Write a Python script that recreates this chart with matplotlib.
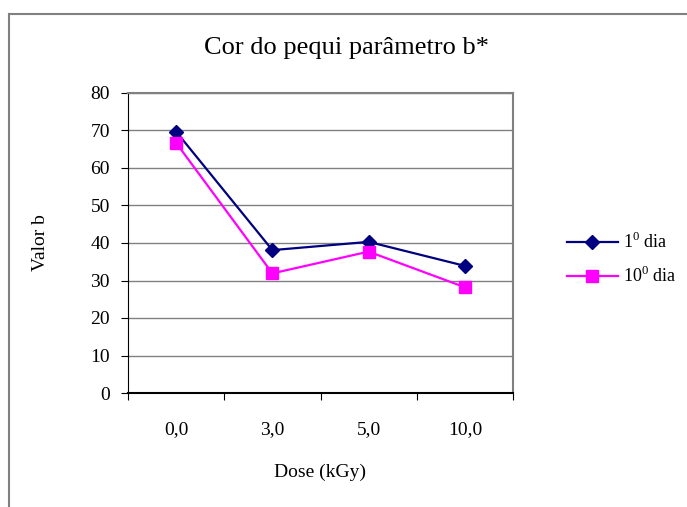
import matplotlib.pyplot as plt
from matplotlib.lines import Line2D
import numpy as np

plt.rcParams['font.family'] = ['Liberation Serif', 'DejaVu Serif']
plt.rcParams['mathtext.fontset'] = 'custom'
plt.rcParams['mathtext.rm'] = 'Liberation Serif'

# data
doses = ["0,0", "3,0", "5,0", "10,0"]
dia_1 = [69.7, 38.1, 40.3, 33.9]
dia_10 = [66.7, 31.9, 37.7, 28.2]
y_ticks = [0, 10, 20, 30, 40, 50, 60, 70, 80]

fig = plt.figure(figsize=(6.87, 5.07), dpi=100)
W, H = 687, 507

# outer chart border (only top and left visible)
fig.add_artist(Line2D([8.5 / W, 1.0], [1 - 13.5 / H, 1 - 13.5 / H], color="#808080", lw=1.5,
                      transform=fig.transFigure))
fig.add_artist(Line2D([8.5 / W, 8.5 / W], [0, 1 - 13.5 / H], color="#808080", lw=1.5,
                      transform=fig.transFigure))

ax = fig.add_axes([128 / W, 1 - 393 / H, 385 / W, 300 / H])
x = np.arange(len(doses))

ax.plot(x, dia_1, color="#000080", lw=1.6, marker="D", markersize=7, label=r"1$^\mathrm{0}$ dia", zorder=3)
ax.plot(x, dia_10, color="#FF00FF", lw=1.6, marker="s", markersize=9, label=r"10$^\mathrm{0}$ dia", zorder=3)

ax.set_xlim(-0.5, len(doses) - 0.5)
ax.set_ylim(0, 80)
ax.set_yticks(y_ticks)
ax.yaxis.grid(True, color="#808080", lw=1)
ax.set_axisbelow(True)

# category labels between boundary ticks
ax.set_xticks(np.arange(-0.5, len(doses)), minor=False)
ax.set_xticklabels([])
ax.set_xticks(x, minor=True)
ax.set_xticklabels(doses, minor=True)
ax.tick_params(axis="x", which="major", direction="out", length=5, color="black")
ax.tick_params(axis="x", which="minor", length=0, pad=20, labelsize=14)
ax.tick_params(axis="y", direction="out", length=5, labelsize=14, pad=8)

for s in ["top", "right"]:
    ax.spines[s].set_color("#808080")
    ax.spines[s].set_linewidth(1.5)
ax.spines["left"].set_color("black")
ax.spines["bottom"].set_color("black")
ax.spines["bottom"].set_linewidth(1.5)

ax.set_xlabel("Dose (kGy)", fontsize=14, labelpad=19)
ax.set_ylabel("Valor b", fontsize=14, labelpad=30)
fig.text(346 / W, 1 - 48 / H, "Cor do pequi parâmetro b*", fontsize=19, ha="center", va="center")

fig.legend(loc="center left", bbox_to_anchor=(567 / W, 1 - 259 / H), frameon=False,
           borderpad=0, borderaxespad=0,
           fontsize=13, handlelength=2.8, handletextpad=0.28, labelspacing=0.75)

plt.savefig("out.png", dpi=100)
